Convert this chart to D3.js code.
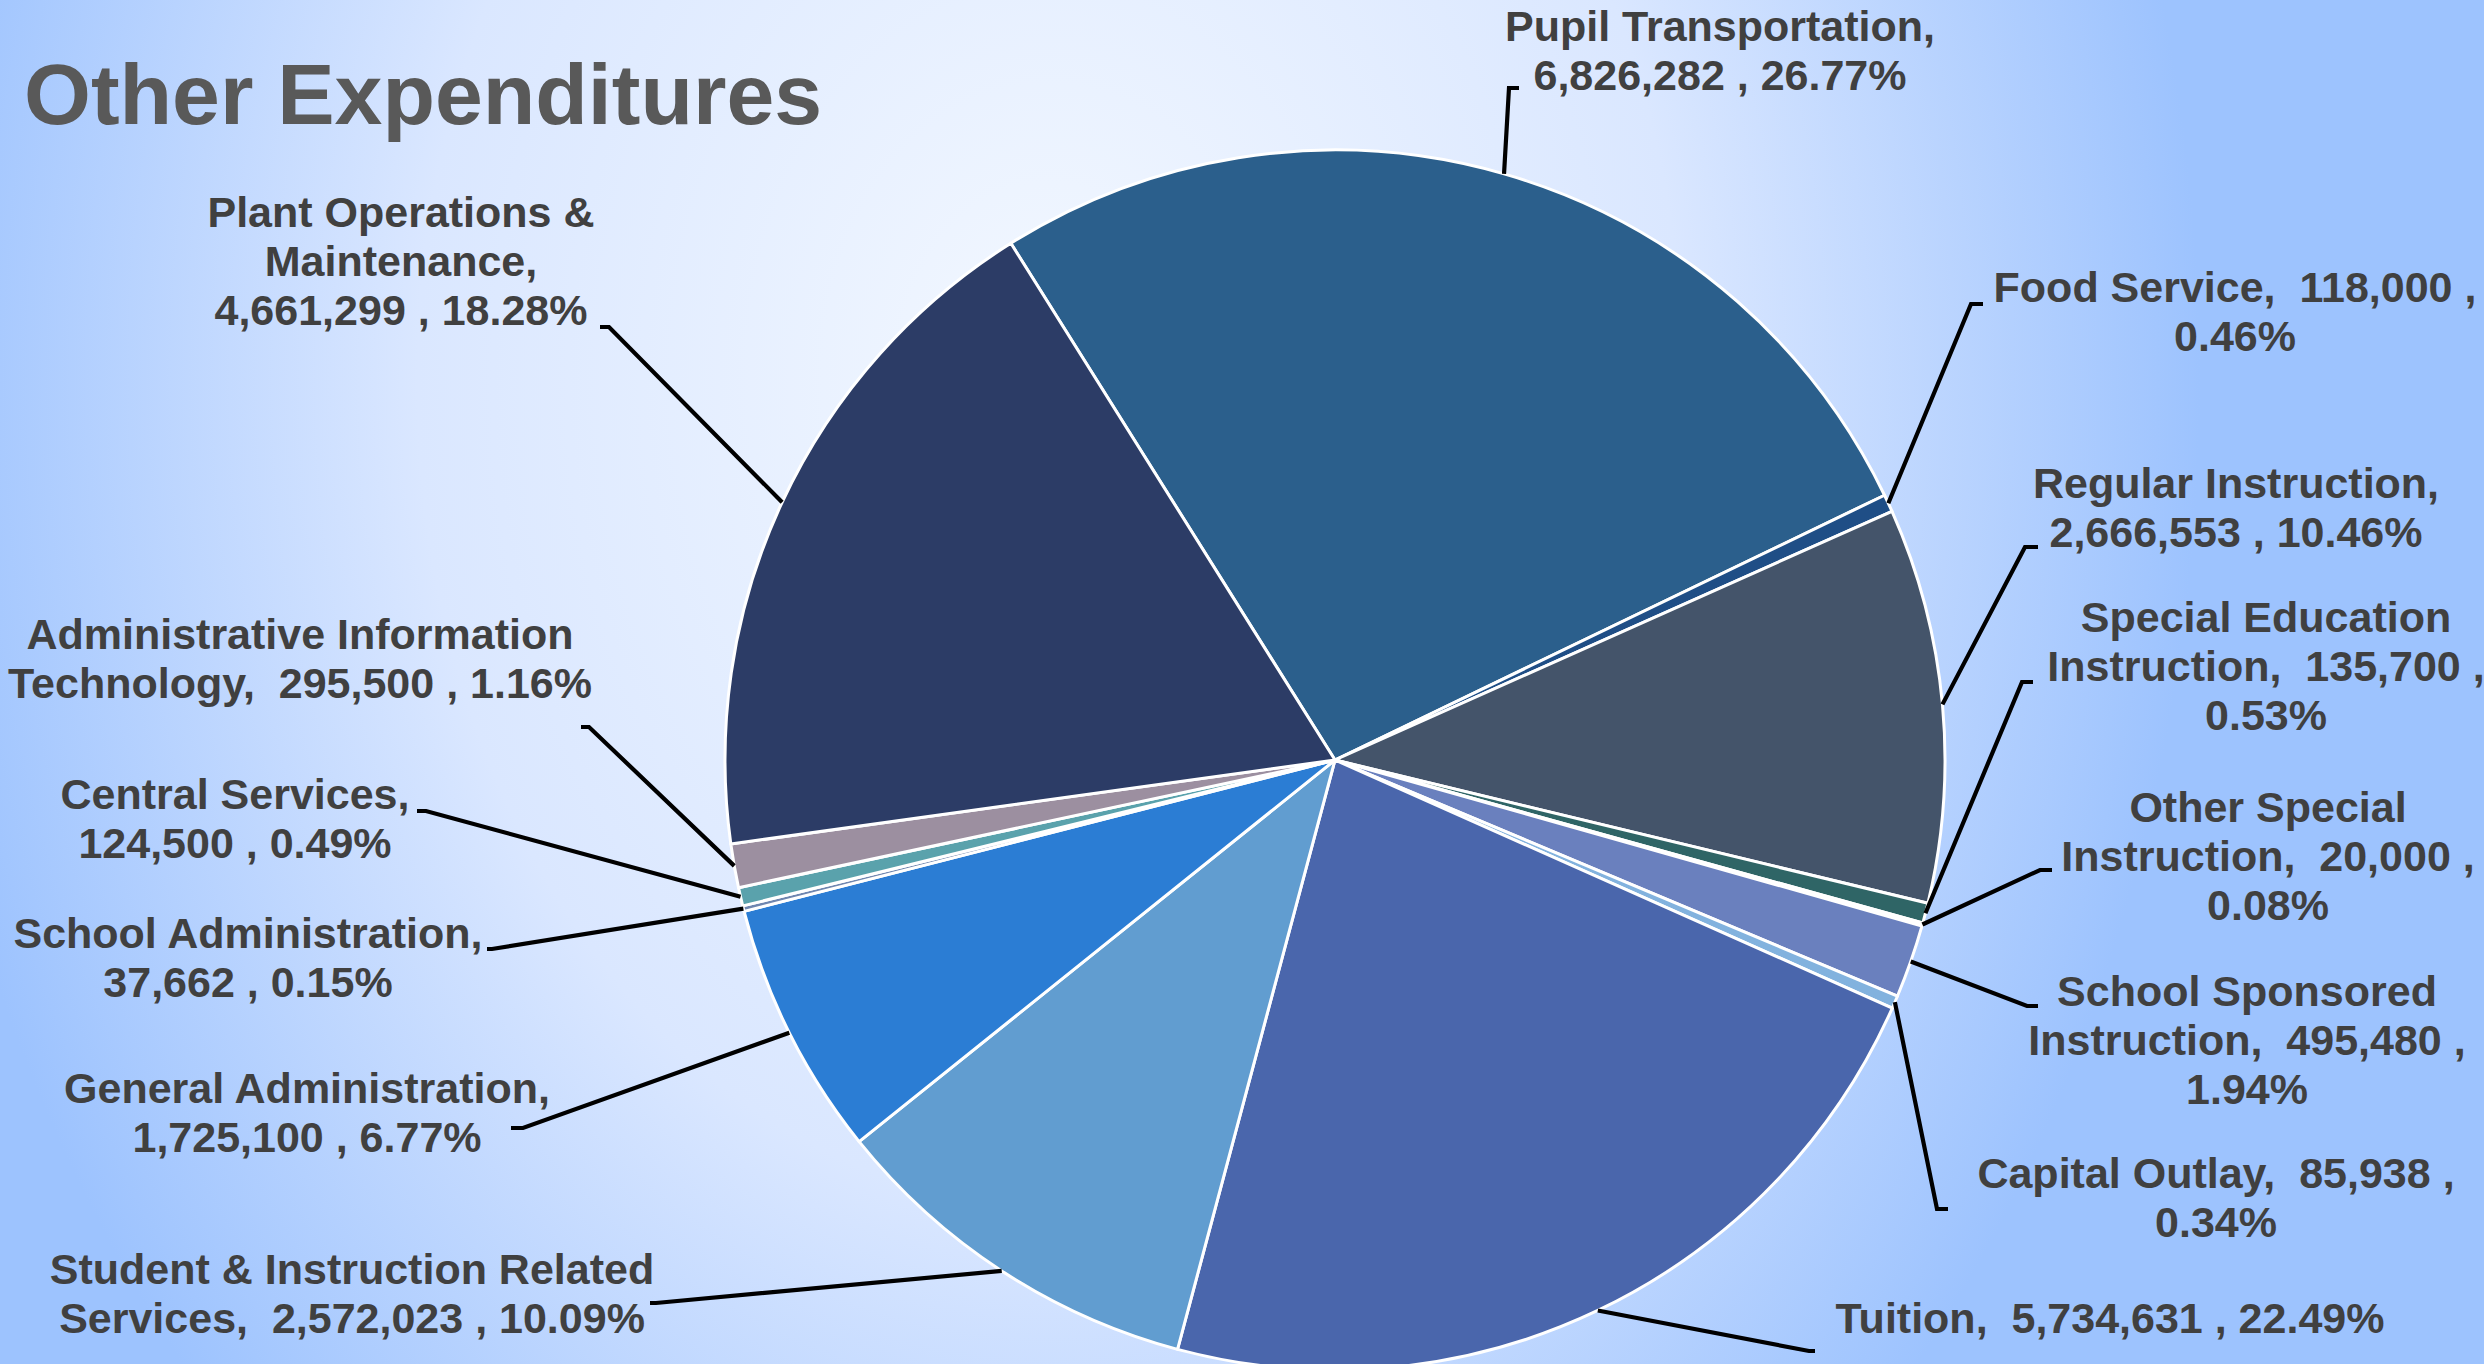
<!DOCTYPE html>
<html>
<head>
<meta charset="utf-8">
<script src="https://cdn.jsdelivr.net/npm/d3@7"></script>
<style>
  html, body { margin: 0; padding: 0; overflow: hidden; background: #9dc3fe; }
  svg { display: block; }
</style>
</head>
<body>
<svg id="chart" width="2484" height="1364"></svg>
<script>
// ---- data ----
const titleText = "Other Expenditures";

const categories = [
  "Pupil Transportation",
  "Food Service",
  "Regular Instruction",
  "Special Education Instruction",
  "Other Special Instruction",
  "School Sponsored Instruction",
  "Capital Outlay",
  "Tuition",
  "Student & Instruction Related Services",
  "General Administration",
  "School Administration",
  "Central Services",
  "Administrative Information Technology",
  "Plant Operations & Maintenance"
];

const values = [
  6826282, 118000, 2666553, 135700, 20000, 495480, 85938,
  5734631, 2572023, 1725100, 37662, 124500, 295500, 4661299
];

const sliceColors = [
  "#2b5f8c", "#1f4e86", "#44546a", "#2f6566", "#3d6f8f", "#6a80be", "#82b2de",
  "#4a66ac", "#619dd0", "#2b7dd4", "#6f86b0", "#5aa2ac", "#9c8fa0", "#2c3c66"
];

// number of space-separated tokens on each label line (the rest goes on the last line)
const labelWrap = [
  [2], [5], [2], [2, 4], [2, 4], [2, 4], [5],
  [99], [4], [2], [2], [2], [2], [3, 1]
];

// ---- layout ----
const W = 2484, H = 1364;
const cx = 1335, cy = 760, R = 610;
const startDeg = -32.1;
const fontSize = 43, lineH = 49;

// label block: centre x, first baseline, leader elbow, leader end
const labelLayout = [
  { x: 1720, y: 41,   elbow: [1509, 88],   end: [1519, 88] },
  { x: 2235, y: 302,  elbow: [1971, 304],  end: [1983, 304] },
  { x: 2236, y: 498,  elbow: [2025, 547],  end: [2038, 547] },
  { x: 2266, y: 632,  elbow: [2022, 682],  end: [2033, 682] },
  { x: 2268, y: 822,  elbow: [2040, 870],  end: [2052, 870] },
  { x: 2247, y: 1006, elbow: [2027, 1006], end: [2038, 1006] },
  { x: 2216, y: 1188, elbow: [1937, 1209], end: [1948, 1209] },
  { x: 2110, y: 1333, elbow: [1809, 1351], end: [1815, 1351] },
  { x: 352,  y: 1284, elbow: [656, 1303],  end: [650, 1303] },
  { x: 307,  y: 1103, elbow: [523, 1128],  end: [511, 1128] },
  { x: 248,  y: 948,  elbow: [492, 949],   end: [487, 949] },
  { x: 235,  y: 809,  elbow: [426, 811],   end: [417, 811] },
  { x: 300,  y: 649,  elbow: [589, 727],   end: [581, 727] },
  { x: 401,  y: 227,  elbow: [609, 327],   end: [600, 327] }
];

const svg = d3.select("#chart");

// background: soft elliptical glow behind the pie
const defs = svg.append("defs");
const grad = defs.append("radialGradient")
  .attr("id", "bg")
  .attr("gradientUnits", "userSpaceOnUse")
  .attr("cx", 0).attr("cy", 0).attr("r", 1)
  .attr("gradientTransform", "translate(1050,380) scale(1150,1500)");
grad.append("stop").attr("offset", 0).attr("stop-color", "#f3f8ff");
grad.append("stop").attr("offset", 0.55).attr("stop-color", "#dae7ff");
grad.append("stop").attr("offset", 1).attr("stop-color", "#9dc3fe");

svg.append("rect").attr("width", W).attr("height", H).attr("fill", "url(#bg)");

// title
svg.append("text")
  .attr("x", 24).attr("y", 124)
  .attr("font-family", "'Liberation Sans', Arial, sans-serif")
  .attr("font-weight", "bold")
  .attr("font-size", 86)
  .attr("fill", "#595959")
  .text(titleText);

// pie
const total = d3.sum(values);
const a0 = startDeg * Math.PI / 180;
const pie = d3.pie().sort(null).value(d => d)
  .startAngle(a0).endAngle(a0 + 2 * Math.PI);
const arcs = pie(values);
const arc = d3.arc().innerRadius(0).outerRadius(R);

const g = svg.append("g").attr("transform", `translate(${cx},${cy})`);
g.selectAll("path.slice")
  .data(arcs)
  .join("path")
  .attr("class", "slice")
  .attr("d", arc)
  .attr("fill", (d, i) => sliceColors[i])
  .attr("stroke", "#ffffff")
  .attr("stroke-width", 3)
  .attr("stroke-linejoin", "round");

// leader lines from the middle of each slice's rim
const leader = d3.line();
svg.append("g").selectAll("path.leader")
  .data(arcs)
  .join("path")
  .attr("class", "leader")
  .attr("d", (d, i) => {
    const m = (d.startAngle + d.endAngle) / 2;
    const p0 = [cx + R * Math.sin(m), cy - R * Math.cos(m)];
    const L = labelLayout[i];
    return leader([p0, L.elbow, L.end]);
  })
  .attr("fill", "none")
  .attr("stroke", "#000000")
  .attr("stroke-width", 4.2)
  .attr("stroke-linejoin", "miter");

// data labels
const fmtNum = d3.format(",");
const fmtPct = v => (v * 100).toFixed(2) + "%";

function labelLines(i) {
  const full = `${categories[i]},  ${fmtNum(values[i])} , ${fmtPct(values[i] / total)}`;
  const tokens = full.split(" ");
  const lines = [];
  let k = 0;
  for (const n of labelWrap[i]) {
    if (k >= tokens.length) break;
    lines.push(tokens.slice(k, k + n).join(" ").trim());
    k += n;
  }
  if (k < tokens.length) lines.push(tokens.slice(k).join(" ").trim());
  return lines;
}

const labels = svg.append("g")
  .attr("font-family", "'Liberation Sans', Arial, sans-serif")
  .attr("font-weight", "bold")
  .attr("font-size", fontSize)
  .attr("fill", "#404040")
  .attr("text-anchor", "middle");

categories.forEach((c, i) => {
  const L = labelLayout[i];
  const t = labels.append("text");
  labelLines(i).forEach((line, j) => {
    t.append("tspan")
      .attr("x", L.x)
      .attr("y", L.y + j * lineH)
      .attr("xml:space", "preserve")
      .style("white-space", "pre")
      .text(line);
  });
});
</script>
</body>
</html>
